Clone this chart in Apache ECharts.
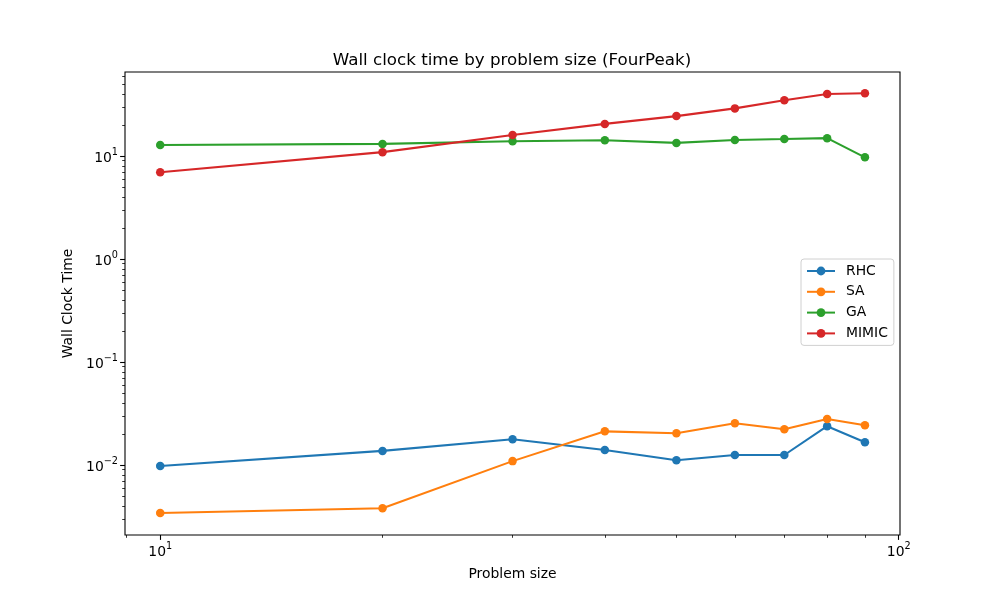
<!DOCTYPE html>
<html><head><meta charset="utf-8">
<script src="https://cdn.jsdelivr.net/npm/echarts@6/dist/echarts.min.js"></script>
<style>html,body{margin:0;padding:0;background:#fff}#c{width:1000px;height:600px}</style>
</head><body><div id="c"></div>
<script>
const sizes = [10, 20, 30, 40, 50, 60, 70, 80, 90];
const rhc   = [0.00978, 0.0137, 0.0178, 0.0140, 0.0111, 0.0125, 0.0125, 0.0238, 0.0166];
const sa    = [0.00342, 0.0038, 0.0109, 0.0212, 0.0203, 0.0254, 0.0222, 0.0280, 0.0243];
const ga    = [12.8, 13.1, 13.9, 14.2, 13.4, 14.3, 14.6, 14.9, 9.7];
const mimic = [6.95, 10.9, 16.0, 20.5, 24.4, 29.0, 34.8, 40.0, 40.6];
const seriesNames = ['RHC', 'SA', 'GA', 'MIMIC'];
const colors = ['#1f77b4', '#ff7f0e', '#2ca02c', '#d62728'];
const xMajor = [10, 100];
const xMinor = [9, 20, 30, 40, 50, 60, 70, 80, 90];
const yMajor = [0.01, 0.1, 1, 10];
const yMinor = [0.003,0.004,0.005,0.006,0.007,0.008,0.009,0.02,0.03,0.04,0.05,0.06,0.07,0.08,0.09,0.2,0.3,0.4,0.5,0.6,0.7,0.8,0.9,2,3,4,5,6,7,8,9,20,30,40,50,60];
const xMin = 8.96, xMax = 100.4, yMin = 0.00209, yMax = 65.4;

const font = 'DejaVu Sans';
function powLabel(v) {
  const e = Math.round(Math.log10(v));
  const s = e < 0 ? '\u2212' + Math.abs(e) : String(e);
  return '{b|10}{s|' + s + '}';
}
const rich = {
  b: {fontFamily: font, fontSize: 13.9, color: '#000', lineHeight: 18, verticalAlign: 'bottom'},
  s: {fontFamily: font, fontSize: 9.7, color: '#000', lineHeight: 18, verticalAlign: 'top', padding: [0, 0, 6, 0]}
};
const lists = [rhc, sa, ga, mimic];
const chart = echarts.init(document.getElementById('c'), null, {renderer: 'canvas'});
chart.setOption({
  animation: false,
  backgroundColor: '#fff',
  title: {text: 'Wall clock time by problem size (FourPeak)', left: 507, textAlign: 'center', top: 47,
    textStyle: {fontFamily: font, fontSize: 16.7, fontWeight: 'normal', color: '#000'}},
  grid: {left: 125, right: 100, top: 72, bottom: 65, show: true, borderColor: '#000', borderWidth: 1.1, backgroundColor: 'transparent'},
  legend: {orient: 'vertical', left: 801, top: 259, data: seriesNames,
    itemWidth: 28, itemHeight: 11, itemGap: 6.8,
    padding: [5, 6, 5, 5],
    borderColor: '#d0d0d0', borderWidth: 1, borderRadius: 3, backgroundColor: 'rgba(255,255,255,0.8)',
    textStyle: {fontFamily: font, fontSize: 13.9, color: '#000', padding: [0, 0, 0, 6]}},
  xAxis: [
    {type: 'log', logBase: 10, min: xMin, max: xMax, position: 'bottom',
     name: 'Problem size', nameLocation: 'middle', nameGap: 32,
     nameTextStyle: {fontFamily: font, fontSize: 13.9, color: '#000'},
     axisLine: {show: false}, splitLine: {show: false},
     axisTick: {show: true, length: 4.9, customValues: xMajor, lineStyle: {color: '#000', width: 1.1}},
     axisLabel: {customValues: xMajor, margin: 6, formatter: powLabel, rich: rich}},
    {type: 'log', logBase: 10, min: xMin, max: xMax, position: 'bottom', offset: 0,
     axisLine: {show: false}, splitLine: {show: false},
     axisTick: {show: true, length: 2.8, customValues: xMinor, lineStyle: {color: '#000', width: 0.8}},
     axisLabel: {show: false}}
  ],
  yAxis: [
    {type: 'log', logBase: 10, min: yMin, max: yMax, position: 'left',
     name: 'Wall Clock Time', nameLocation: 'middle', nameGap: 49, nameRotate: 90,
     nameTextStyle: {fontFamily: font, fontSize: 13.9, color: '#000'},
     axisLine: {show: false}, splitLine: {show: false},
     axisTick: {show: true, length: 4.9, customValues: yMajor, lineStyle: {color: '#000', width: 1.1}},
     axisLabel: {customValues: yMajor, margin: 7, formatter: powLabel, rich: rich}},
    {type: 'log', logBase: 10, min: yMin, max: yMax, position: 'left', offset: 0,
     axisLine: {show: false}, splitLine: {show: false},
     axisTick: {show: true, length: 2.8, customValues: yMinor, lineStyle: {color: '#000', width: 0.8}},
     axisLabel: {show: false}}
  ],
  series: seriesNames.map((n, k) => ({
    name: n, type: 'line', xAxisIndex: 0, yAxisIndex: 0,
    data: sizes.map((x, i) => [x, lists[k][i]]),
    symbol: 'circle', symbolSize: 8.5, showSymbol: true,
    lineStyle: {width: 2.1, color: colors[k]},
    itemStyle: {color: colors[k]},
    emphasis: {disabled: true}
  }))
});
</script></body></html>
